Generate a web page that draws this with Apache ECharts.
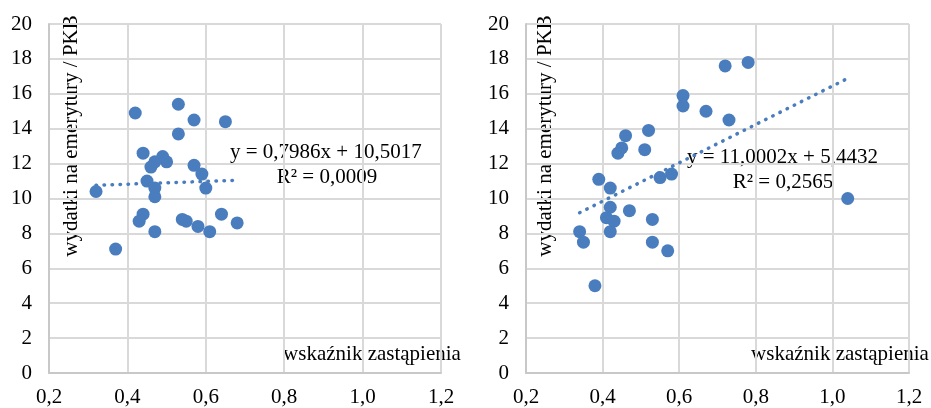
<!DOCTYPE html>
<html lang="pl">
<head>
<meta charset="utf-8">
<title>wydatki na emerytury / PKB</title>
<script src="https://cdn.jsdelivr.net/npm/echarts@6/dist/echarts.min.js"></script>
<style>
  html, body { margin: 0; padding: 0; background: #fff; }
  #main { width: 931px; height: 408px; }
</style>
</head>
<body>
<div id="main"></div>
<script type="text/javascript">
// dane - lewy wykres
var leftPoints = [
    [0.32, 10.4], [0.42, 14.9], [0.53, 15.4], [0.57, 14.5], [0.65, 14.4],
    [0.53, 13.7], [0.44, 12.6], [0.49, 12.4], [0.50, 12.1], [0.47, 12.1],
    [0.46, 11.8], [0.57, 11.9], [0.59, 11.4], [0.60, 10.6], [0.45, 11.0],
    [0.47, 10.6], [0.47, 10.1], [0.44, 9.1], [0.43, 8.7], [0.47, 8.1],
    [0.37, 7.1], [0.54, 8.8], [0.55, 8.7], [0.58, 8.4], [0.61, 8.1],
    [0.64, 9.1], [0.68, 8.6]
];
// dane - prawy wykres
var rightPoints = [
    [0.72, 17.6], [0.78, 17.8], [0.61, 15.9], [0.61, 15.3], [0.67, 15.0],
    [0.73, 14.5], [0.46, 13.6], [0.52, 13.9], [0.45, 12.9], [0.44, 12.6],
    [0.51, 12.8], [0.39, 11.1], [0.42, 10.6], [0.55, 11.2], [0.58, 11.4],
    [1.04, 10.0], [0.42, 9.5], [0.47, 9.3], [0.41, 8.9], [0.43, 8.7],
    [0.53, 8.8], [0.34, 8.1], [0.42, 8.1], [0.35, 7.5], [0.53, 7.5],
    [0.57, 7.0], [0.38, 5.0]
];
// linie trendu: [nachylenie, wyraz wolny], zakres x
var leftTrend = [0.7986, 10.5017];
var leftTrendRange = [0.32, 0.68];
var rightTrend = [11.0002, 5.4432];
var rightTrendRange = [0.34, 1.04];

var leftEq = ['y = 0,7986x + 10,5017', 'R² = 0,0009'];
var rightEq = ['y = 11,0002x + 5,4432', 'R² = 0,2565'];

var xTicks = { min: 0.2, max: 1.2, interval: 0.2 };
var yTicks = { min: 0, max: 20, interval: 2 };

var yName = 'wydatki na emerytury / PKB';
var xName = 'wskaźnik zastąpienia';

var dotColor = '#4a7dbe';
var fontFam = '"Liberation Serif", "DejaVu Serif", serif';

function trendData(coef, range) {
    return range.map(function (x) { return [x, coef[0] * x + coef[1]]; });
}

function xAxisCfg(idx) {
    return {
        type: 'value', gridIndex: idx,
        min: xTicks.min, max: xTicks.max, interval: xTicks.interval,
        axisLine: { show: true, lineStyle: { color: '#c8c8c8', width: 2 } },
        axisTick: { show: false },
        splitLine: { show: true, lineStyle: { color: '#d9d9d9', width: 2 } },
        axisLabel: {
            color: '#000', fontFamily: fontFam, fontSize: 21, margin: 14,
            formatter: function (v) { return v.toFixed(1).replace('.', ','); }
        }
    };
}
function yAxisCfg(idx) {
    return {
        type: 'value', gridIndex: idx,
        min: yTicks.min, max: yTicks.max, interval: yTicks.interval,
        axisLine: { show: true, lineStyle: { color: '#c8c8c8', width: 2 } },
        axisTick: { show: false },
        splitLine: { show: true, lineStyle: { color: '#d9d9d9', width: 2 } },
        axisLabel: { color: '#000', fontFamily: fontFam, fontSize: 21, margin: 17 }
    };
}

function txt(x, y, s, align, rot) {
    return {
        type: 'text', x: x, y: y, rotation: rot || 0,
        style: {
            text: s, fill: '#000', font: '21px ' + fontFam,
            textAlign: align || 'left', textVerticalAlign: 'middle'
        }
    };
}

var myChart = echarts.init(document.getElementById('main'));

var option = {
    animation: false,
    backgroundColor: '#fff',
    grid: [
        { left: 49, top: 24, width: 392, height: 349 },
        { left: 526, top: 24, width: 383, height: 349 }
    ],
    xAxis: [xAxisCfg(0), xAxisCfg(1)],
    yAxis: [yAxisCfg(0), yAxisCfg(1)],
    series: [
        {
            type: 'line', xAxisIndex: 0, yAxisIndex: 0,
            data: trendData(leftTrend, leftTrendRange),
            showSymbol: false, silent: true,
            lineStyle: { color: dotColor, width: 3.5, type: [0.5, 7.5], cap: 'round' }
        },
        {
            type: 'line', xAxisIndex: 1, yAxisIndex: 1,
            data: trendData(rightTrend, rightTrendRange),
            showSymbol: false, silent: true,
            lineStyle: { color: dotColor, width: 3.5, type: [0.5, 7.5], cap: 'round' }
        },
        {
            type: 'scatter', xAxisIndex: 0, yAxisIndex: 0,
            data: leftPoints, symbolSize: 13,
            itemStyle: { color: dotColor, opacity: 1 }
        },
        {
            type: 'scatter', xAxisIndex: 1, yAxisIndex: 1,
            data: rightPoints, symbolSize: 13,
            itemStyle: { color: dotColor, opacity: 1 }
        }
    ],
    graphic: [
        txt(230, 152, leftEq[0], 'left'),
        txt(327, 177, leftEq[1], 'center'),
        txt(687, 157, rightEq[0], 'left'),
        txt(783, 182, rightEq[1], 'center'),
        txt(71, 136, yName, 'center', Math.PI / 2),
        txt(545, 136, yName, 'center', Math.PI / 2),
        txt(372, 354, xName, 'center'),
        txt(840, 354, xName, 'center')
    ]
};

myChart.setOption(option);
</script>
</body>
</html>
